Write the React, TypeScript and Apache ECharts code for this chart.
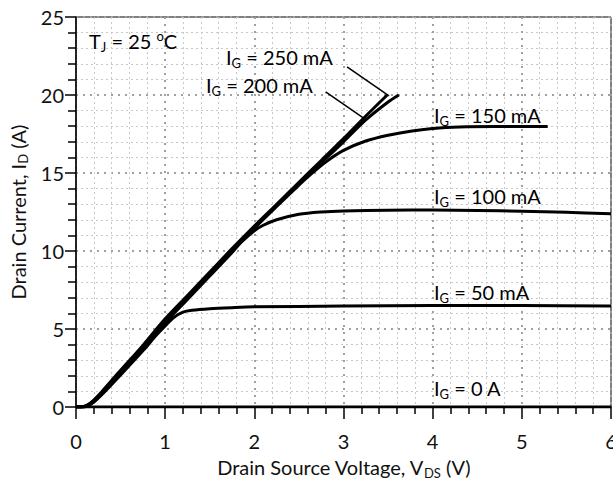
import React, { useEffect, useRef } from "react";
import * as echarts from "echarts";

// Output characteristics: drain current I_D (A) against V_DS (V), one curve per gate current.
const curveIg250: number[][] = [
  [0, 0], [0.05, 0], [0.12, 0.1], [0.2, 0.45], [0.3, 1.05], [0.5, 2.35], [0.75, 3.95],
  [1.0, 5.65], [1.25, 7.15], [1.5, 8.65], [1.75, 10.15], [2.0, 11.6], [2.25, 13.0],
  [2.5, 14.4], [2.75, 15.8], [3.0, 17.2], [3.25, 18.65], [3.49, 20.0],
];
const curveIg200: number[][] = [
  [0, 0], [0.05, 0], [0.12, 0.08], [0.2, 0.4], [0.3, 0.95], [0.5, 2.25], [0.75, 3.85],
  [1.0, 5.55], [1.25, 7.05], [1.5, 8.55], [1.75, 10.05], [2.0, 11.5], [2.25, 12.9],
  [2.5, 14.3], [2.75, 15.65], [3.0, 17.0], [3.25, 18.4], [3.5, 19.55], [3.62, 20.0],
];
const curveIg150: number[][] = [
  [0, 0], [0.05, 0], [0.12, 0.07], [0.2, 0.38], [0.3, 0.92], [0.5, 2.2], [0.75, 3.8],
  [1.0, 5.5], [1.25, 7.0], [1.5, 8.5], [1.75, 10.0], [2.0, 11.45], [2.25, 12.85],
  [2.45, 13.95], [2.6, 14.75], [2.8, 15.7], [3.0, 16.45], [3.25, 17.05], [3.5, 17.42],
  [3.75, 17.68], [4.0, 17.85], [4.3, 17.95], [4.7, 17.98], [5.29, 17.98],
];
const curveIg100: number[][] = [
  [0, 0], [0.05, 0], [0.12, 0.06], [0.2, 0.35], [0.3, 0.88], [0.5, 2.12], [0.75, 3.7],
  [1.0, 5.4], [1.25, 6.9], [1.5, 8.4], [1.75, 9.9], [1.85, 10.55], [2.0, 11.3],
  [2.1, 11.65], [2.25, 12.0], [2.5, 12.35], [2.75, 12.5], [3.0, 12.57], [3.5, 12.62],
  [4.0, 12.63], [4.5, 12.6], [5.0, 12.55], [5.5, 12.48], [6.0, 12.38],
];
const curveIg50: number[][] = [
  [0, 0], [0.05, 0], [0.12, 0.05], [0.2, 0.32], [0.3, 0.85], [0.5, 2.05], [0.75, 3.6],
  [0.9, 4.6], [1.0, 5.2], [1.1, 5.75], [1.2, 6.08], [1.3, 6.2], [1.5, 6.3],
  [1.75, 6.37], [2.0, 6.42], [3.0, 6.47], [4.0, 6.5], [5.0, 6.5], [6.0, 6.48],
];
const curveIg0: number[][] = [
  [0, 0], [1, 0], [2, 0], [3, 0], [4, 0], [5, 0], [6, 0],
];

// Leader lines from the two top labels to the ends of their curves
const leaderIg250: number[][] = [[3.04, 21.8], [3.51, 19.95]];
const leaderIg200: number[][] = [[2.8, 20.2], [3.23, 18.5]];

// Curve labels: [gate current text, x, y]
const curveLabels: [string, number, number][] = [
  ["250 mA", 226, 57],
  ["200 mA", 206, 85],
  ["150 mA", 434, 115],
  ["100 mA", 434, 196],
  ["50 mA", 434, 292],
  ["0 A", 434, 388],
];

const FONT = "Lato";
const FS = 20;

const richBase = {
  m: { fontSize: FS, fontFamily: FONT, color: "#111", lineHeight: 24, verticalAlign: "middle" },
  sub: { fontSize: 13, fontFamily: FONT, color: "#111", lineHeight: 24, verticalAlign: "bottom" },
  sup: { fontSize: 13, fontFamily: FONT, color: "#111", lineHeight: 24, verticalAlign: "top" },
};

export default function App() {
  const ref = useRef<HTMLDivElement>(null);

  useEffect(() => {
    if (!ref.current) return;
    const chart = echarts.init(ref.current, null, { renderer: "svg" });

    const curve = (name: string, data: number[][]) => ({
      name,
      type: "line",
      data,
      smooth: 0.3,
      showSymbol: false,
      symbol: "none",
      lineStyle: { color: "#000", width: 3 },
      z: 3,
    });
    const leader = (name: string, data: number[][]) => ({
      name,
      type: "line",
      data,
      showSymbol: false,
      symbol: "none",
      lineStyle: { color: "#000", width: 1.5 },
      z: 3,
    });

    const graphics: any[] = curveLabels.map(([txt, x, y]) => ({
      type: "text",
      x,
      y,
      style: {
        text: `{m|I}{sub|G}{m| = ${txt}}`,
        rich: richBase,
        verticalAlign: "middle",
      },
      z: 10,
    }));
    graphics.push({
      type: "text",
      x: 89,
      y: 41,
      style: {
        text: "{m|T}{sub|J}{m| = 25 }{sup|o}{m|C}",
        rich: richBase,
        verticalAlign: "middle",
      },
      z: 10,
    });

    chart.setOption({
      animation: false,
      backgroundColor: "#fff",
      grid: {
        left: 76,
        right: 2,
        top: 17,
        bottom: 73,
        outerBoundsMode: "none",
        containLabel: false,
        show: true,
        borderColor: "#000",
        borderWidth: 1,
        backgroundColor: "transparent",
      },
      xAxis: {
        type: "value",
        min: 0,
        max: 6,
        interval: 1,
        name: "{m|Drain Source Voltage, V}{sub|DS}{m| (V)}",
        nameLocation: "middle",
        nameGap: 48,
        nameTextStyle: { rich: richBase },
        axisLine: { show: true, onZero: false, lineStyle: { color: "#000", width: 1.5 } },
        axisTick: { show: true, inside: false, length: 12, lineStyle: { color: "#000", width: 1.5 } },
        minorTick: { show: true, splitNumber: 5, length: 7, lineStyle: { color: "#000", width: 1.5 } },
        axisLabel: { fontFamily: FONT, fontSize: FS, color: "#111", margin: 24 },
        splitLine: { show: true, lineStyle: { color: "#a0a0a0", width: 2, type: [2, 5] } },
        minorSplitLine: { show: true, lineStyle: { color: "#c8c8c8", width: 1, type: [2, 3] } },
      },
      yAxis: {
        type: "value",
        min: 0,
        max: 25,
        interval: 5,
        name: "{m|Drain Current, I}{sub|D}{m| (A)}",
        nameLocation: "middle",
        nameGap: 43,
        nameRotate: 90,
        nameTextStyle: { rich: richBase },
        axisLine: { show: true, onZero: false, lineStyle: { color: "#000", width: 1.5 } },
        axisTick: { show: true, inside: false, length: 11, lineStyle: { color: "#000", width: 1.5 } },
        minorTick: { show: true, splitNumber: 5, length: 8, lineStyle: { color: "#000", width: 1.5 } },
        axisLabel: { fontFamily: FONT, fontSize: FS, color: "#111", margin: 12 },
        splitLine: { show: true, lineStyle: { color: "#a0a0a0", width: 2, type: [2, 5] } },
        minorSplitLine: { show: true, lineStyle: { color: "#c8c8c8", width: 1, type: [2, 3] } },
      },
      series: [
        curve("IG = 0 A", curveIg0),
        curve("IG = 50 mA", curveIg50),
        curve("IG = 100 mA", curveIg100),
        curve("IG = 150 mA", curveIg150),
        curve("IG = 200 mA", curveIg200),
        curve("IG = 250 mA", curveIg250),
        leader("leader 250 mA", leaderIg250),
        leader("leader 200 mA", leaderIg200),
      ],
      graphic: graphics,
    });

    return () => chart.dispose();
  }, []);

  return (
    <div
      ref={ref}
      style={{ position: "fixed", left: 0, top: 0, width: 613, height: 480, background: "#fff" }}
    />
  );
}
